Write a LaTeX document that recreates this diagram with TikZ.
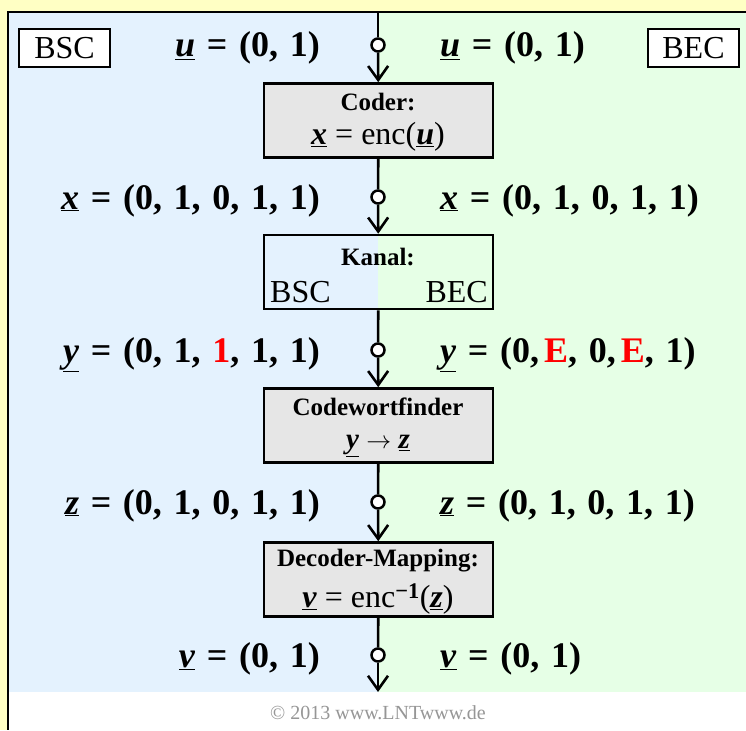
\documentclass[tikz,border=0pt]{standalone}
\usepackage{fontspec}
\setmainfont{Liberation Serif}
\newfontfamily\lblfont{Liberation Serif}[WordSpace=1.3]
\usetikzlibrary{arrows.meta}
\definecolor{bgyellow}{RGB}{255,255,196}
\definecolor{bsblue}{RGB}{228,242,254}
\definecolor{begreen}{RGB}{230,255,230}
\definecolor{boxgray}{RGB}{230,230,230}
\definecolor{cpgray}{RGB}{150,150,150}
\newcommand{\uv}[1]{\underline{\textbf{\textit{#1}}}}
\tikzset{
  lbl/.style={font=\lblfont\bfseries\fontsize{36}{40}\selectfont, inner sep=0pt},
  blk/.style={draw, line width=2.6pt, minimum width=229pt, minimum height=74pt, inner sep=0pt},
  dot/.style={circle, draw, fill=white, line width=2.5pt, minimum size=13pt, inner sep=0pt},
  flow/.style={line width=2.6pt},
  arr/.style={flow, -{Straight Barb[length=14pt,width=20pt]}},
  hdr/.style={font=\bfseries\fontsize{25}{28}\selectfont, inner sep=0pt},
  frm/.style={font=\fontsize{32}{34}\selectfont, inner sep=0pt},
  tag/.style={draw, line width=1.5pt, fill=white, font=\fontsize{32}{34}\selectfont, minimum width=91pt, minimum height=38pt, inner sep=0pt}
}
\begin{document}
\begin{tikzpicture}[x=1pt,y=-1pt]
\useasboundingbox (0,0) rectangle (746,730);
\fill[bgyellow] (0,0) rectangle (746,730);
\fill[white] (8,12) rectangle (746,730);
\fill[bsblue] (8,12) rectangle (378,692);
\fill[begreen] (378,12) rectangle (746,692);
\draw[line width=2pt] (746,12) -- (8,12) -- (8,730);

% corner tags
\node[tag] (bsctag) at (64.5,48) {BSC};
\node[tag] (bectag) at (693.5,48) {BEC};

% boxes
\node[blk, fill=boxgray] (coder) at (378.5,120.5) {};
\node[blk] (kanal) at (378.5,272) {};
\node[blk, fill=boxgray] (cwf) at (378.5,425.5) {};
\node[blk, fill=boxgray] (dec) at (378.5,579.5) {};

% junction dots
\coordinate (top) at (378,12);
\coordinate (bot) at (378,692);
\node[dot] (c1) at (378,45) {};
\node[dot] (c2) at (378,197) {};
\node[dot] (c3) at (378,350) {};
\node[dot] (c4) at (378,502) {};
\node[dot] (c5) at (378,655) {};

% connectors
\draw[flow] (top) -- (c1);
\draw[arr] (c1) -- (coder);
\draw[flow] (coder) -- (c2);
\draw[arr] (c2) -- (kanal);
\draw[flow] (kanal) -- (c3);
\draw[arr] (c3) -- (cwf);
\draw[flow] (cwf) -- (c4);
\draw[arr] (c4) -- (dec);
\draw[flow] (dec) -- (c5);
\draw[arr] (c5) -- (bot);

% box texts
\node[hdr] (coderT) at (378,102) {Coder:};
\node[frm] (coderF) at (378,137) {\uv{x} = enc(\uv{u})};
\node[hdr] (kanalT) at (378,257) {Kanal:};
\node[frm, anchor=west] (kbsc) at (270,292) {BSC};
\node[frm, anchor=east] (kbec) at (488,292) {BEC};
\node[hdr] (cwfT) at (378,407) {Codewortfinder};
\node[frm, font=\fontsize{29}{32}\selectfont] (cwfF) at (378,446) {\uv{y} $\rightarrow$ \uv{z}};
\node[hdr] (decT) at (378,561) {Decoder-Mapping:};
\node[frm] (decF) at (378,599) {\uv{v} = enc\textsuperscript{\textbf{−1}}(\uv{z})};

% labels
\node[lbl, anchor=base east] (uL) at (320,57) {\uv{u} = (0, 1)};
\node[lbl, anchor=base west] (uR) at (440,57) {\uv{u} = (0, 1)};
\node[lbl, anchor=base east] (xL) at (320,209) {\uv{x} = (0, 1, 0, 1, 1)};
\node[lbl, anchor=base west] (xR) at (440,209) {\uv{x} = (0, 1, 0, 1, 1)};
\node[lbl, anchor=base east] (yL) at (320,362) {\uv{y} = (0, 1, \textcolor{red}{1}, 1, 1)};
\node[lbl, anchor=base west] (yR) at (440,362) {\uv{y} = (0,\hspace{5pt}\textcolor{red}{E}, 0,\hspace{5pt}\textcolor{red}{E}, 1)};
\node[lbl, anchor=base east] (zL) at (320,514) {\uv{z} = (0, 1, 0, 1, 1)};
\node[lbl, anchor=base west] (zR) at (440,514) {\uv{z} = (0, 1, 0, 1, 1)};
\node[lbl, anchor=base east] (vL) at (320,667) {\uv{v} = (0, 1)};
\node[lbl, anchor=base west] (vR) at (440,667) {\uv{v} = (0, 1)};

% copyright
\node[font=\fontsize{20}{22}\selectfont, text=cpgray, inner sep=0pt] (copy) at (378,713) {© 2013 www.LNTwww.de};
\end{tikzpicture}
\end{document}
